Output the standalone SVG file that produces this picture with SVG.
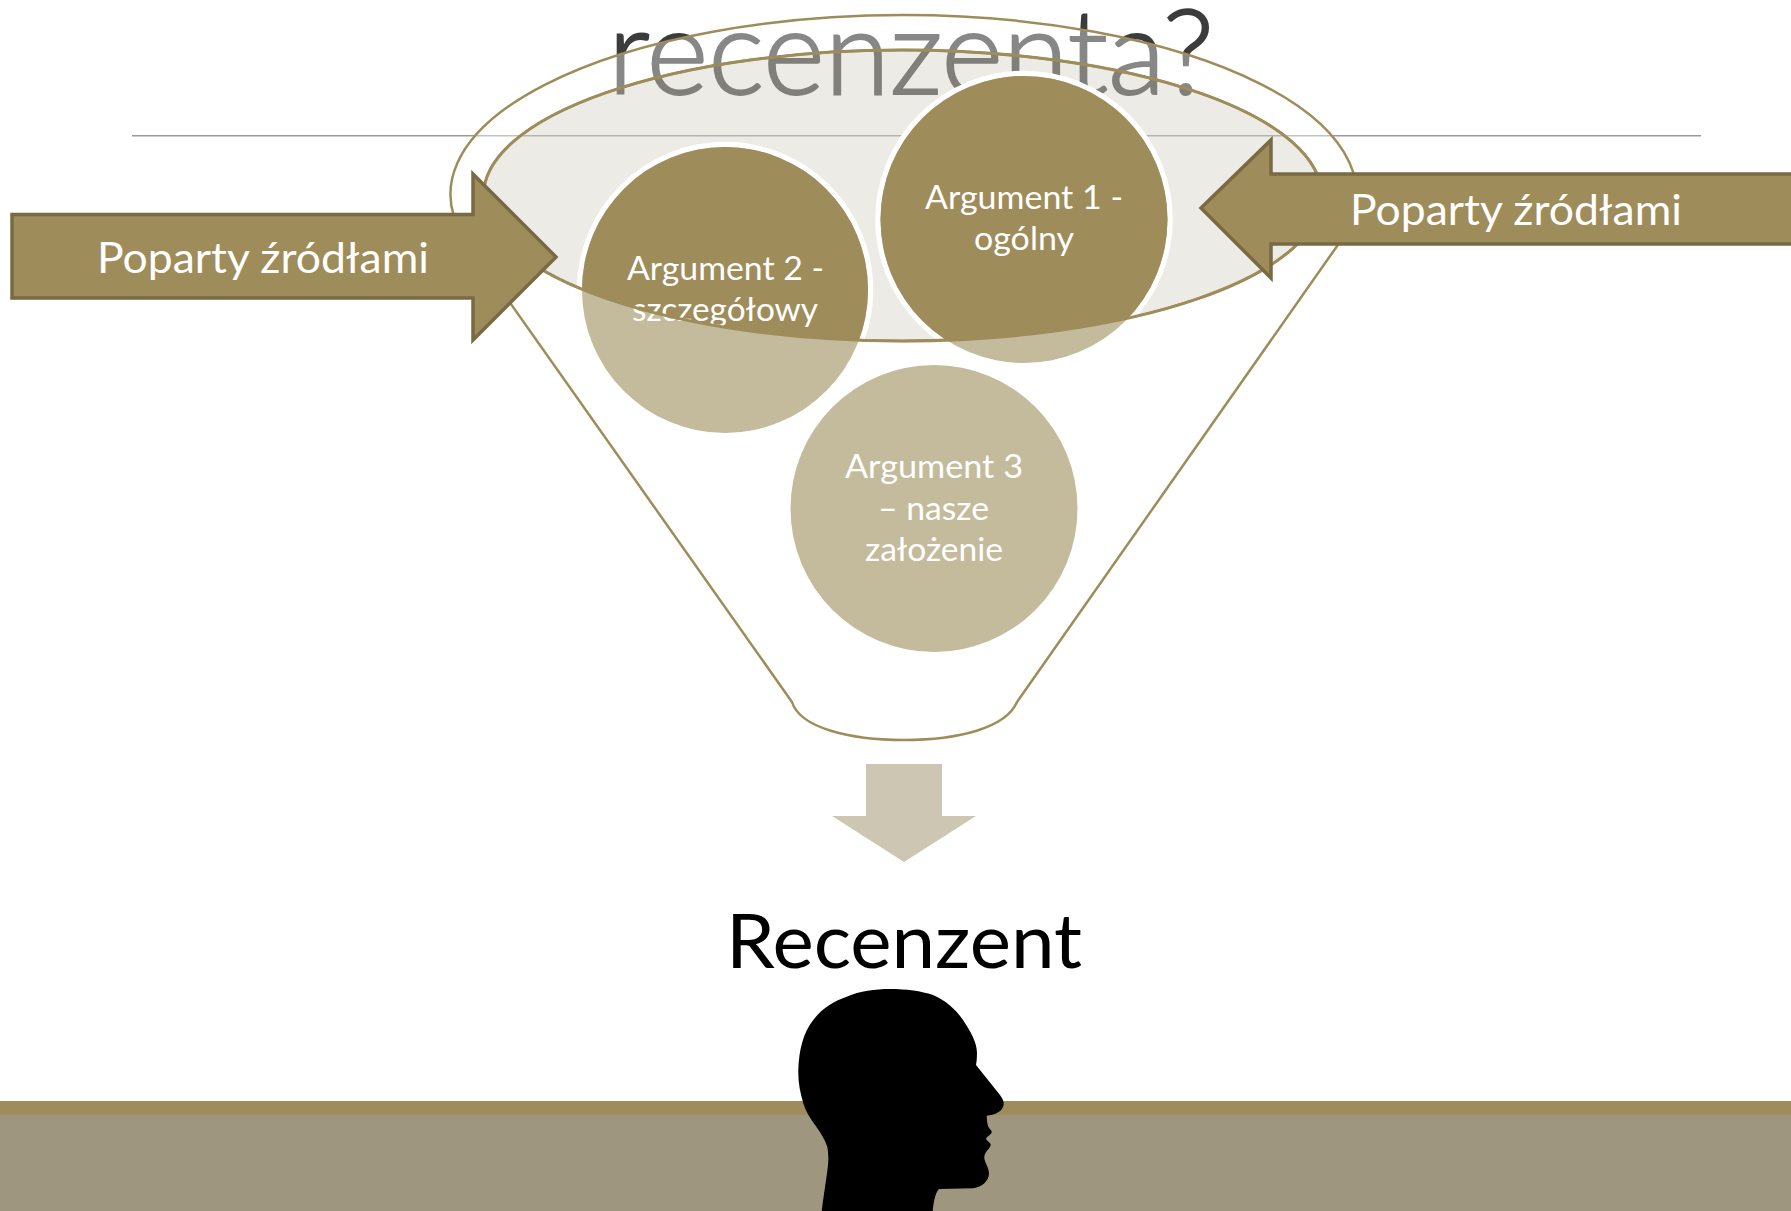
<svg xmlns="http://www.w3.org/2000/svg" width="1791" height="1211" viewBox="0 0 1791 1211">
<style>
text{font-family:Lato,"Liberation Sans",sans-serif;fill:#fff;text-anchor:start}
.arg{font-size:33px}
.pop{font-size:42px}
.arrow{fill:#9E8C5A;stroke:#786A43;stroke-width:3.5;stroke-linejoin:miter}
.dark{fill:#9E8C5A}
.light{fill:#C4BB9C}
.ring{fill:none;stroke:#fff;stroke-width:5.5}
.edge{fill:none;stroke:#9E8C5A;stroke-width:2.5}
</style>
<defs>
<clipPath id="inner"><ellipse cx="902.500" cy="195.500" rx="419" ry="145.500"/></clipPath>
</defs>
<rect width="1791" height="1211" fill="#fff"/>
<g id="title">
<text x="608" y="94" textLength="606" lengthAdjust="spacingAndGlyphs" style="font-size:118px;font-weight:300;fill:#3C3C3C;stroke:#3C3C3C;stroke-width:2">recenzenta?</text>
<rect x="132" y="135" width="1569" height="1.5" fill="#9a9a9a"/>
</g>
<g id="footer">
<rect x="0" y="1101" width="1791" height="14" fill="#9E8C5A"/>
<rect x="0" y="1115" width="1791" height="96" fill="#9E967E"/>
</g>
<g id="funnel">
<path d="M792 702C800 728 850 740 904 740C958 740 1006 728 1017 702L1342 239A453 179 0 1 0 465 239Z" fill="#fff" fill-opacity=".39" stroke="#9E8C5A" stroke-width="2.500"/>
<ellipse cx="902.500" cy="195.500" rx="419" ry="145.500" fill="rgb(65,55,0)" fill-opacity=".1"/>
<ellipse cx="902.500" cy="195.500" rx="419" ry="145.500" class="edge"/>
</g>
<g id="arg3">
<circle cx="934" cy="508.500" r="143.500" class="light"/>
<text class="arg" x="845" y="478" textLength="178" lengthAdjust="spacingAndGlyphs">Argument 3</text>
<text class="arg" x="878" y="519.500" textLength="111" lengthAdjust="spacingAndGlyphs">– nasze</text>
<text class="arg" x="865" y="560.500" textLength="138" lengthAdjust="spacingAndGlyphs">założenie</text>
</g>
<g id="arg2">
<circle cx="725" cy="290" r="145.500" class="ring" clip-path="url(#inner)"/>
<circle cx="725" cy="290" r="143" class="light"/>
<circle cx="725" cy="290" r="143" class="dark" clip-path="url(#inner)"/>
<text class="arg" x="627" y="280" textLength="197" lengthAdjust="spacingAndGlyphs">Argument 2 -</text>
<text class="arg" x="632" y="321" textLength="186" lengthAdjust="spacingAndGlyphs">szczegółowy</text>
</g>
<g id="arg1">
<circle cx="1024" cy="219.500" r="146" class="ring"/>
<circle cx="1024" cy="219.500" r="143.500" class="light"/>
<circle cx="1024" cy="219.500" r="143.500" class="dark" clip-path="url(#inner)"/>
<text class="arg" x="925" y="209" textLength="198" lengthAdjust="spacingAndGlyphs">Argument 1 -</text>
<text class="arg" x="974" y="250" textLength="100" lengthAdjust="spacingAndGlyphs">ogólny</text>
</g>
<g id="connectors">
<ellipse cx="902.500" cy="195.500" rx="419" ry="145.500" class="edge" style="stroke-width:3"/>
<path d="M866 764H942V816H976L904 862L832 816H866Z" fill="#CCC6B2"/>
</g>
<g id="arrow-left">
<path d="M12 214.500H473V174L556 257L473 340V298H12Z" class="arrow"/>
<text class="pop" x="97" y="273" textLength="332" lengthAdjust="spacingAndGlyphs">Poparty źródłami</text>
</g>
<g id="arrow-right">
<path d="M1795 174H1271V140L1201 208L1271 278V244H1795" class="arrow"/>
<text class="pop" x="1350" y="225" textLength="332" lengthAdjust="spacingAndGlyphs">Poparty źródłami</text>
</g>
<g id="recenzent">
<text x="726" y="968" textLength="356" lengthAdjust="spacingAndGlyphs" style="font-size:76px;fill:#000">Recenzent</text>
<path fill="#000" d="M821.700 1211C825 1185 829 1165 828.300 1156.700C828 1150 827.500 1148 827.300 1146.700C822 1130 808 1120 803.300 1103.300C800 1092 798 1082 798.300 1070C799 1050 803 1033 813.300 1020C822 1008 834 1001 846.700 996.700C860 991 875 989 890 989C907 989 921 991 933 995C947 1001 956 1010 963 1020C971 1032 977 1043 977 1053Q977 1060 976 1065L1000 1095Q1005 1102 1003.300 1106C1002 1112 994 1115 986.700 1115.700C987 1120 987 1123 988.300 1126.700C990 1130 992 1130 991.700 1132.300C991 1135 987 1136 986 1139C987 1141 991 1143 990.700 1145C990 1149 985 1151 984.300 1156.700C984 1162 989 1167 989 1173.300C989 1181 982 1187 973.300 1188.300L939 1189C935 1193 933.500 1203 932.700 1211Z"/>
</g>
</svg>
